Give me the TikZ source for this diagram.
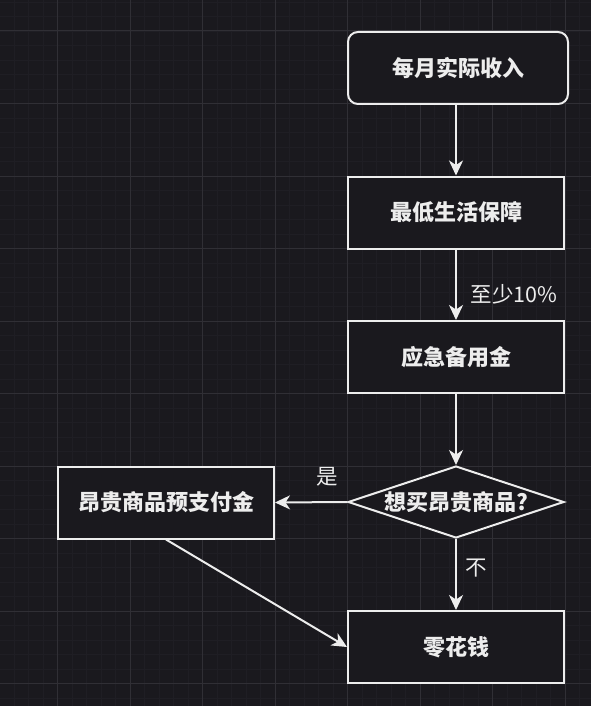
\documentclass[tikz,border=0pt]{standalone}
\usepackage{fontspec}
\setmainfont{Noto Sans CJK SC}
\usetikzlibrary{arrows.meta,shapes.geometric}
\definecolor{bg}{HTML}{1A191E}
\definecolor{gridmin}{HTML}{1F1E24}
\definecolor{gridmaj}{HTML}{302F35}
\definecolor{fg}{HTML}{EDEDED}
\begin{document}
\begin{tikzpicture}[x=1pt,y=-1pt,
  stepbox/.style={draw=fg, line width=2pt, fill=bg, text=fg, minimum width=216pt, minimum height=72pt, inner sep=0pt, font=\bfseries\fontsize{22}{26}\selectfont},
  startbox/.style={stepbox, rounded corners=10pt, minimum width=220pt},
  decision/.style={diamond, draw=fg, line width=2pt, fill=bg, minimum width=216pt, minimum height=72pt, inner sep=0pt, aspect=3},
  dtext/.style={text=fg, font=\bfseries\fontsize{22}{26}\selectfont},
  arr/.style={draw=fg, line width=2pt, -{Stealth[length=15pt,width=14pt,inset=4.5pt]}},
  lbl/.style={text=fg, font=\fontsize{21.5}{25}\selectfont, inner sep=0pt}
]
\fill[bg] (0,0) rectangle (591,706);
\useasboundingbox (0,0) rectangle (591,706);
% grid
\foreach \i in {0,...,42} {\draw[gridmin, line width=0.8pt] (-15+14.5*\i,0) -- (-15+14.5*\i,706);}
\foreach \i in {0,...,52} {\draw[gridmin, line width=0.8pt] (0,-41.5+14.5*\i) -- (591,-41.5+14.5*\i);}
\foreach \i in {0,...,8} {\draw[gridmaj, line width=1pt] (-15+72.5*\i,0) -- (-15+72.5*\i,706);}
\foreach \i in {0,...,10} {\draw[gridmaj, line width=1pt] (0,-41.5+72.5*\i) -- (591,-41.5+72.5*\i);}
% nodes
\node[startbox] (b1) at (458,68) {每月实际收入};
\node[stepbox] (b2) at (456,212.5) {最低生活保障};
\node[stepbox] (b3) at (456,357) {应急备用金};
\node[decision] (d) at (456,502) {};
\node[dtext] (dt) at (d.center) {想买昂贵商品?};
\node[stepbox] (b4) at (166,502.5) {昂贵商品预支付金};
\node[stepbox] (b5) at (456,647) {零花钱};
% connectors
\draw[arr] (b1.south -| b2.north) -- (b2.north);
\draw[arr] (b2.south) -- node[lbl, pos=0.64, xshift=58pt] {至少10\%} (b3.north);
\draw[arr] (b3.south) -- (d.north);
\draw[arr] (d.west) -- node[lbl, pos=0.27, yshift=25pt] {是} (b4.east);
\draw[arr] (d.south) -- node[lbl, pos=0.41, xshift=20pt] {不} (b5.north);
\draw[arr] (b4.south) -- (b5.west);
\end{tikzpicture}
\end{document}
